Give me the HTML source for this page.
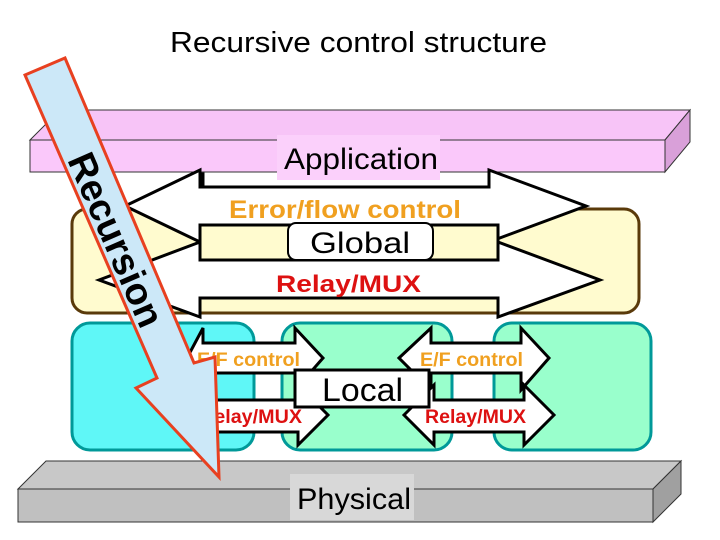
<!DOCTYPE html>
<html><head><meta charset="utf-8"><style>
html,body{margin:0;padding:0;background:#fff;}
svg{display:block;}
text{font-family:"Liberation Sans",sans-serif;}
</style></head><body>
<svg width="720" height="540" viewBox="0 0 720 540" xmlns="http://www.w3.org/2000/svg">
<rect width="720" height="540" fill="#fff"/>
<text x="170" y="52" font-size="29" textLength="377" lengthAdjust="spacingAndGlyphs">Recursive control structure</text>

<rect x="203" y="155" width="286" height="32" fill="#fff" stroke="#000" stroke-width="3"/>
<polygon points="30,140 60,110 690,110 665,140" fill="#f7c4f7" stroke="#333" stroke-width="1"/>
<polygon points="665,140 690,110 690,142 665,172" fill="#d9a0d9" stroke="#333" stroke-width="1"/>
<rect x="30" y="140" width="635" height="32" fill="#fac8fa" stroke="#333" stroke-width="1"/>
<rect x="277" y="135" width="163" height="45" fill="#fbd0fb"/>
<text x="284" y="169" font-size="30" textLength="154" lengthAdjust="spacingAndGlyphs">Application</text>

<rect x="72" y="209" width="567" height="104" rx="15" fill="#fffbcf" stroke="#5a3a0a" stroke-width="3"/>
<polygon points="125,206 200,170 200,187 489,187 489,170 586,206 489,242 489,225 200,225 200,242" fill="#fff" stroke="#000" stroke-width="3"/>
<polygon points="99,280 200,242 200,260 498,260 498,242 600,280 498,317 498,298 200,298 200,317" fill="#fff" stroke="#000" stroke-width="3"/>
<rect x="200" y="225" width="298" height="35" fill="#fffbcf" stroke="#000" stroke-width="3"/>
<rect x="288" y="223" width="145" height="37" rx="8" fill="#fff" stroke="#000" stroke-width="2"/>
<text x="310" y="253" font-size="30" textLength="100" lengthAdjust="spacingAndGlyphs">Global</text>
<text x="229" y="218" font-size="25" font-weight="bold" fill="#f0a020" textLength="232" lengthAdjust="spacingAndGlyphs">Error/flow control</text>
<text x="276" y="292" font-size="24" font-weight="bold" fill="#dd1111" textLength="145" lengthAdjust="spacingAndGlyphs">Relay/MUX</text>

<rect x="72" y="323" width="182" height="127" rx="18" fill="#5ff7f7" stroke="#009999" stroke-width="3"/>
<rect x="282" y="323" width="170" height="127" rx="18" fill="#99ffcc" stroke="#009999" stroke-width="3"/>
<rect x="494" y="323" width="157" height="127" rx="18" fill="#99ffcc" stroke="#009999" stroke-width="3"/>
<polygon points="187,358 203,328 203,343 295,343 295,328 323,358 295,390 295,373 203,373 203,390" fill="#fff" stroke="#000" stroke-width="3"/>
<polygon points="399,358 431,328 431,343 521,343 521,328 549,358 521,390 521,373 431,373 431,390" fill="#fff" stroke="#000" stroke-width="3"/>
<polygon points="190,415 206,385 206,400 298,400 298,385 328,415 298,445 298,432 206,432 206,445" fill="#fff" stroke="#000" stroke-width="3"/>
<polygon points="404,415 434,385 434,400 524,400 524,385 554,415 524,445 524,432 434,432 434,445" fill="#fff" stroke="#000" stroke-width="3"/>
<rect x="295" y="370" width="134" height="37" fill="#fff" stroke="#000" stroke-width="3"/>
<text x="322" y="401" font-size="32" textLength="81" lengthAdjust="spacingAndGlyphs">Local</text>
<text x="197" y="366" font-size="19" font-weight="bold" fill="#f0a020" textLength="103" lengthAdjust="spacingAndGlyphs">E/F control</text>
<text x="420" y="366" font-size="19" font-weight="bold" fill="#f0a020" textLength="103" lengthAdjust="spacingAndGlyphs">E/F control</text>
<text x="200" y="423" font-size="19" font-weight="bold" fill="#dd1111" textLength="102" lengthAdjust="spacingAndGlyphs">Relay/MUX</text>
<text x="425" y="423" font-size="19" font-weight="bold" fill="#dd1111" textLength="101" lengthAdjust="spacingAndGlyphs">Relay/MUX</text>

<polygon points="18,489 46,461 681,461 653,489" fill="#c8c8c8" stroke="#333" stroke-width="1"/>
<polygon points="653,489 681,461 681,494 653,522" fill="#a0a0a0" stroke="#333" stroke-width="1"/>
<rect x="18" y="489" width="635" height="33" fill="#c0c0c0" stroke="#333" stroke-width="1"/>
<rect x="290" y="474" width="124" height="46" fill="#d8d8d8"/>
<text x="297" y="509" font-size="30" textLength="114" lengthAdjust="spacingAndGlyphs">Physical</text>

<polygon points="25,75 65,58 194,363 215,357 219,477 136,388 157,378" fill="#cce8f8" stroke="#e84020" stroke-width="3"/>
<text x="0" y="0" font-size="38" font-weight="bold" text-anchor="middle" transform="translate(104,245) rotate(66.5)">Recursion</text>
</svg>
</body></html>
